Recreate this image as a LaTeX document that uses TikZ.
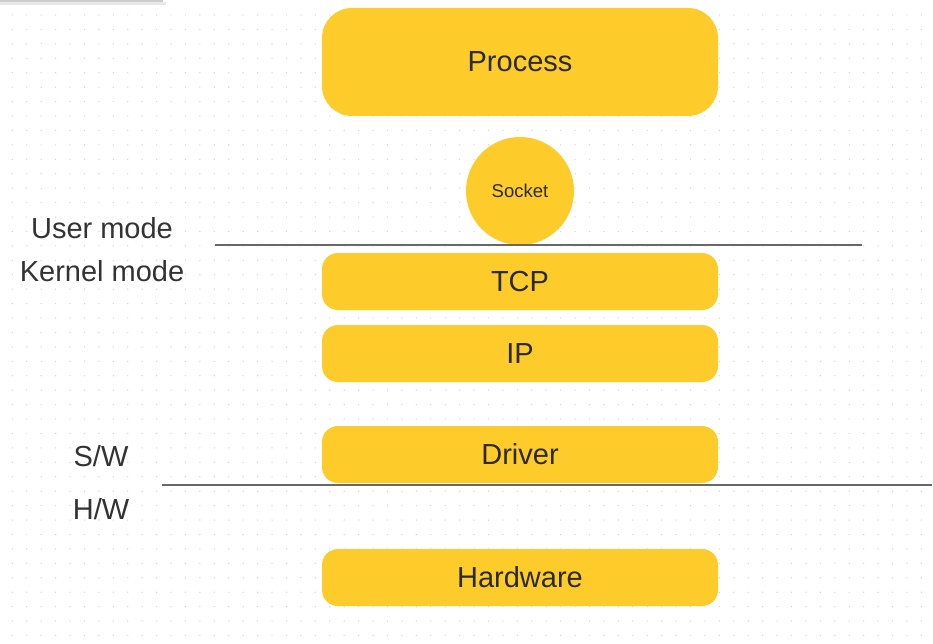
\documentclass[tikz,border=0pt]{standalone}
\usepackage{fontspec}
\setmainfont{Liberation Sans}
\definecolor{boxyellow}{HTML}{FECC2A}
\definecolor{txtdark}{HTML}{2A2A2A}
\definecolor{sidetxt}{HTML}{333333}
\definecolor{linegray}{HTML}{686868}
\definecolor{dotgray}{HTML}{D6D6D6}
\begin{document}
\begin{tikzpicture}[x=1pt,y=-1pt,
  layerbox/.style={fill=boxyellow, draw=none, rounded corners=16pt, minimum width=396pt, minimum height=57pt, inner sep=0pt, text=txtdark, font=\fontsize{29}{33}\selectfont},
  bigbox/.style={layerbox, rounded corners=30pt, minimum height=108pt},
  sockcirc/.style={circle, fill=boxyellow, draw=none, minimum size=108pt, inner sep=0pt, text=txtdark, font=\fontsize{18.5}{22}\selectfont},
  sidelabel/.style={text=sidetxt, font=\fontsize{29}{33}\selectfont, inner sep=0pt},
  divider/.style={draw=linegray, line width=1.8pt}]
\useasboundingbox (0,0) rectangle (933,644);
\fill[white] (0,0) rectangle (933,644);
% dot grid
\foreach \i in {0,...,64}{
  \foreach \j in {0,...,43}{
    \fill[dotgray] ({12.3+14.43*\i},{15+14.43*\j}) circle (0.7pt);
  }
}
% faint shadow at top-left
\fill[black!20] (0,0) rectangle (163,2.5);
\fill[black!9] (0,2.5) rectangle (166,5);
% boxes
\node[bigbox] (process) at (520,62) {Process};
\node[sockcirc] (socket) at (520,191) {Socket};
\node[layerbox] (tcp) at (520,281.5) {TCP};
\node[layerbox] (ip) at (520,353.5) {IP};
\node[layerbox] (driver) at (520,454.5) {Driver};
\node[layerbox] (hw) at (520,577.5) {Hardware};
% dividers
\coordinate (umL) at (215,245);
\coordinate (umR) at (862,245);
\coordinate (swL) at (162,485);
\coordinate (swR) at (932,485);
\draw[divider] (umL) -- (umR);
\draw[divider] (swL) -- (swR);
% side labels
\node[sidelabel] (user) at (102,228) {User mode};
\node[sidelabel] (kernel) at (102,271) {Kernel mode};
\node[sidelabel] (sw) at (101,456) {S/W};
\node[sidelabel] (hwl) at (101,509) {H/W};
\end{tikzpicture}
\end{document}
